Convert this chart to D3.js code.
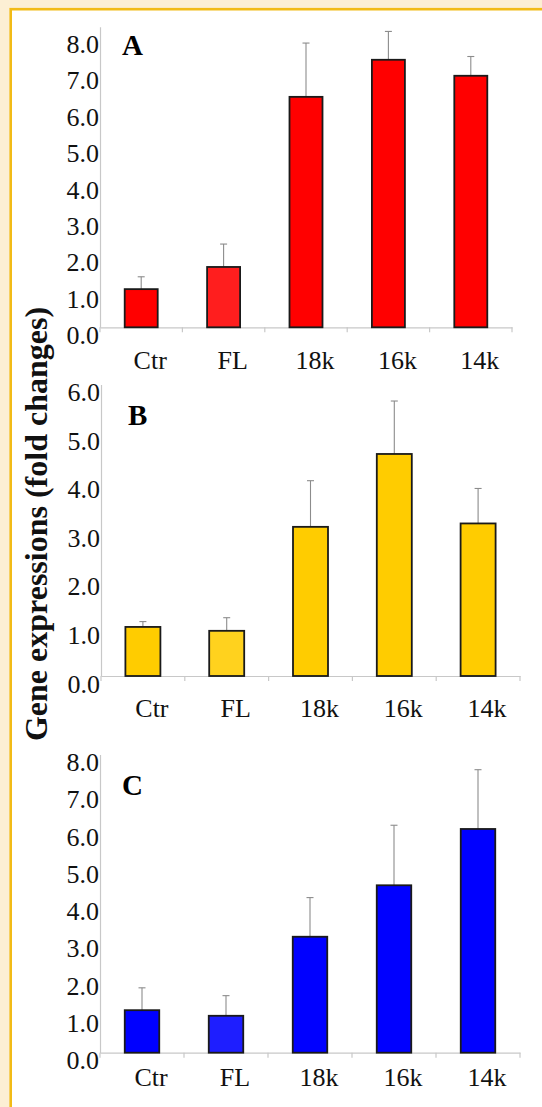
<!DOCTYPE html>
<html>
<head>
<meta charset="utf-8">
<script src="https://cdn.jsdelivr.net/npm/d3@7"></script>
<style>
  html, body { margin: 0; padding: 0; background: #fcefd4; }
  svg { display: block; }
</style>
</head>
<body>
<div id="chart"></div>
<script>
// data
var categories = ["Ctr", "FL", "18k", "16k", "14k"];

var valuesA = [1.05, 1.66, 6.34, 7.36, 6.92];
var errorsA = [0.34, 0.63, 1.48, 0.78, 0.53];

var valuesB = [1.01, 0.93, 3.07, 4.57, 3.14];
var errorsB = [0.11, 0.27, 0.95, 1.09, 0.72];

var valuesC = [1.14, 0.99, 3.11, 4.49, 6.00];
var errorsC = [0.60, 0.54, 1.05, 1.61, 1.59];

var ticksA = [0, 1, 2, 3, 4, 5, 6, 7, 8];
var ticksB = [0, 1, 2, 3, 4, 5, 6];
var ticksC = [0, 1, 2, 3, 4, 5, 6, 7, 8];

var colorsA = ["#ff0000", "#ff1e1e", "#ff0000", "#ff0000", "#ff0000"];
var colorsB = ["#ffcc00", "#ffd21e", "#ffcc00", "#ffcc00", "#ffcc00"];
var colorsC = ["#0000ff", "#1e1eff", "#0000ff", "#0000ff", "#0000ff"];

var yTitle = "Gene expressions (fold changes)";

var width = 542, height = 1107;
var serif = "Liberation Serif";

var svg = d3.select("#chart").append("svg")
    .attr("width", width)
    .attr("height", height);

svg.append("rect")
    .attr("x", 0).attr("y", 0)
    .attr("width", width).attr("height", height)
    .attr("fill", "#fcefd4");

svg.append("rect")
    .attr("x", 10.7).attr("y", 9.2)
    .attr("width", width + 10).attr("height", height + 10)
    .attr("fill", "#ffffff")
    .attr("stroke", "#f2bb16")
    .attr("stroke-width", 2.6);

var panels = [
    {letter: "A", values: valuesA, errors: errorsA, ticks: ticksA, colors: colorsA,
     yMax: 8.27, base: 327.3, top: 26.7, x0: 100, x1: 512, barW: 33,
     labelDy: 42, letterX: 122, letterY: 55},
    {letter: "B", values: valuesB, errors: errorsB, ticks: ticksB, colors: colorsB,
     yMax: 6.0, base: 676, top: 384.5, x0: 101, x1: 520, barW: 35,
     labelDy: 41, letterX: 128, letterY: 425},
    {letter: "C", values: valuesC, errors: errorsC, ticks: ticksC, colors: colorsC,
     yMax: 8.0, base: 1052.7, top: 754.4, x0: 100, x1: 520, barW: 34.5,
     labelDy: 33.5, letterX: 122, letterY: 795}
];

panels.forEach(function(p) {
    var g = svg.append("g");

    var x = d3.scaleBand()
        .domain(categories)
        .range([p.x0, p.x1])
        .padding(0);

    var y = d3.scaleLinear()
        .domain([0, p.yMax])
        .range([p.base, p.top]);

    // y axis
    var yAxis = g.append("g")
        .attr("transform", "translate(" + p.x0 + ",0)")
        .call(d3.axisLeft(y)
            .tickValues(p.ticks)
            .tickFormat(d3.format(".1f"))
            .tickSize(0)
            .tickPadding(1));
    yAxis.attr("font-family", serif).attr("font-size", 26);
    yAxis.select(".domain").attr("stroke", "#c8c8c8").attr("stroke-width", 1.2);
    yAxis.selectAll("text")
        .attr("dy", "0.62em")
        .attr("fill", "#111");

    // x axis
    var xAxis = g.append("g")
        .attr("transform", "translate(0," + p.base + ")")
        .call(d3.axisBottom(x).tickSize(0));
    xAxis.attr("font-family", serif).attr("font-size", 26);
    xAxis.select(".domain").attr("stroke", "#c8c8c8").attr("stroke-width", 1.2);
    xAxis.selectAll("text")
        .attr("dx", 9)
        .attr("dy", 0)
        .attr("y", p.labelDy)
        .attr("fill", "#111");

    var bounds = categories.map(function(c) { return x(c); }).concat([p.x1]);
    g.selectAll(".xtick")
        .data(bounds)
        .enter().append("line")
        .attr("x1", function(d) { return d; })
        .attr("x2", function(d) { return d; })
        .attr("y1", p.base)
        .attr("y2", p.base + 5)
        .attr("stroke", "#c8c8c8")
        .attr("stroke-width", 1.2);

    var rows = categories.map(function(c, i) {
        return {cat: c, value: p.values[i], err: p.errors[i], color: p.colors[i]};
    });

    // error bars (upper only)
    g.selectAll(".err")
        .data(rows)
        .enter().append("line")
        .attr("x1", function(d) { return x(d.cat) + x.bandwidth() / 2; })
        .attr("x2", function(d) { return x(d.cat) + x.bandwidth() / 2; })
        .attr("y1", function(d) { return y(d.value); })
        .attr("y2", function(d) { return y(d.value + d.err); })
        .attr("stroke", "#8c8c8c")
        .attr("stroke-width", 1.1);
    g.selectAll(".cap")
        .data(rows)
        .enter().append("line")
        .attr("x1", function(d) { return x(d.cat) + x.bandwidth() / 2 - 3.5; })
        .attr("x2", function(d) { return x(d.cat) + x.bandwidth() / 2 + 3.5; })
        .attr("y1", function(d) { return y(d.value + d.err); })
        .attr("y2", function(d) { return y(d.value + d.err); })
        .attr("stroke", "#8c8c8c")
        .attr("stroke-width", 1.1);

    // bars
    g.selectAll(".bar")
        .data(rows)
        .enter().append("rect")
        .attr("x", function(d) { return x(d.cat) + (x.bandwidth() - p.barW) / 2; })
        .attr("y", function(d) { return y(d.value); })
        .attr("width", p.barW)
        .attr("height", function(d) { return p.base - y(d.value); })
        .attr("fill", function(d) { return d.color; })
        .attr("stroke", "#1a1a1a")
        .attr("stroke-width", 1.8);

    g.append("text")
        .attr("x", p.letterX)
        .attr("y", p.letterY)
        .attr("font-family", serif)
        .attr("font-size", 29)
        .attr("font-weight", "bold")
        .text(p.letter);
});

svg.append("text")
    .attr("transform", "translate(47,524) rotate(-90)")
    .attr("text-anchor", "middle")
    .attr("font-family", serif)
    .attr("font-size", 32)
    .attr("font-weight", "bold")
    .attr("fill", "#111")
    .text(yTitle);
</script>
</body>
</html>
